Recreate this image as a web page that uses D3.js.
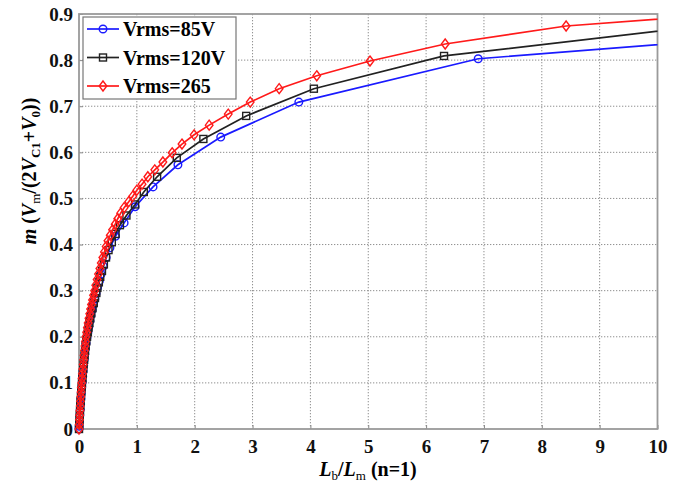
<!DOCTYPE html>
<html><head><meta charset="utf-8">
<script src="https://cdn.jsdelivr.net/npm/d3@7"></script>
<style>
body{margin:0;background:#fff;}
</style></head>
<body>
<svg id="chart" width="690" height="485" font-family="Liberation Serif" font-weight="bold"></svg>
<script>
// ---- data ----
const seriesNames = ["Vrms=85V", "Vrms=120V", "Vrms=265"];
const seriesColors = ["#1a1aff", "#222222", "#ff1a1a"];
const seriesMarkers = ["circle", "square", "diamond"];

const blueX = [0,0.003,0.009,0.015,0.021,0.028,0.034,0.040,0.048,0.056,0.064,0.072,0.081,0.090,0.100,0.110,0.122,0.137,0.154,0.170,0.189,0.206,0.228,0.250,0.274,0.295,0.321,0.353,0.383,0.420,0.470,0.535,0.630,0.78,0.97,1.28,1.71,2.45,3.8,6.9,13.0];
const blueM = [0,0.006,0.018,0.03,0.042,0.054,0.066,0.078,0.09,0.102,0.114,0.126,0.138,0.15,0.162,0.174,0.186,0.198,0.21,0.222,0.234,0.246,0.258,0.27,0.282,0.294,0.307,0.321,0.336,0.353,0.372,0.393,0.418,0.447,0.482,0.525,0.573,0.633,0.709,0.803,0.863];

const blackX = [0,0.004,0.009,0.013,0.018,0.022,0.028,0.034,0.039,0.046,0.052,0.059,0.066,0.073,0.080,0.089,0.097,0.105,0.114,0.126,0.139,0.153,0.166,0.180,0.195,0.213,0.233,0.255,0.276,0.300,0.318,0.343,0.367,0.397,0.430,0.467,0.51,0.567,0.632,0.707,0.82,0.97,1.12,1.35,1.69,2.15,2.89,4.06,6.31,10.3];
const blackM = [0,0.01,0.02,0.03,0.04,0.05,0.06,0.07,0.08,0.09,0.10,0.11,0.12,0.13,0.14,0.15,0.16,0.17,0.18,0.19,0.20,0.21,0.22,0.23,0.24,0.251,0.262,0.273,0.284,0.295,0.306,0.318,0.33,0.343,0.357,0.372,0.388,0.405,0.423,0.442,0.463,0.487,0.514,0.547,0.588,0.629,0.679,0.738,0.809,0.867];

const redX = [0,0.004,0.008,0.012,0.016,0.021,0.026,0.031,0.036,0.041,0.047,0.053,0.060,0.066,0.073,0.080,0.087,0.095,0.103,0.111,0.120,0.132,0.145,0.158,0.172,0.186,0.200,0.216,0.233,0.251,0.270,0.290,0.313,0.337,0.361,0.385,0.412,0.440,0.470,0.500,0.540,0.580,0.625,0.670,0.720,0.780,0.860,0.930,1.00,1.09,1.19,1.31,1.45,1.61,1.78,1.99,2.25,2.58,2.96,3.46,4.11,5.03,6.33,8.42,11.5];
const redM = [0,0.01,0.02,0.03,0.04,0.05,0.06,0.07,0.08,0.09,0.10,0.11,0.12,0.13,0.14,0.15,0.16,0.17,0.18,0.19,0.20,0.21,0.22,0.23,0.24,0.25,0.26,0.27,0.28,0.29,0.30,0.312,0.324,0.336,0.348,0.36,0.372,0.384,0.396,0.408,0.42,0.432,0.444,0.456,0.468,0.48,0.493,0.505,0.518,0.531,0.547,0.562,0.579,0.599,0.618,0.638,0.659,0.683,0.709,0.738,0.766,0.798,0.835,0.874,0.903];

const xTicks = [0,1,2,3,4,5,6,7,8,9,10];
const yTicks = [0,0.1,0.2,0.3,0.4,0.5,0.6,0.7,0.8,0.9];

const seriesX = [blueX, blackX, redX];
const seriesM = [blueM, blackM, redM];

const FONT = "Liberation Serif";

// ---- layout ----
const svg = d3.select("#chart");
const L = 79, R = 657.5, T = 14, B = 429;
const x = d3.scaleLinear().domain([0,10]).range([L,R]);
const y = d3.scaleLinear().domain([0,0.9]).range([B,T]);

svg.append("defs").append("clipPath").attr("id","clip")
  .append("rect").attr("x",L-10).attr("y",T-10).attr("width",R-(L-10)).attr("height",B-T+20);

// grid
const grid = svg.append("g");
grid.selectAll("line.v").data(xTicks.slice(1,-1)).join("line")
  .attr("x1",d=>x(d)).attr("x2",d=>x(d)).attr("y1",T).attr("y2",B)
  .attr("stroke","#8f8f8f").attr("stroke-width",1).attr("stroke-dasharray","1.3,1.7");
grid.selectAll("line.h").data(yTicks.slice(1,-1)).join("line")
  .attr("y1",d=>y(d)).attr("y2",d=>y(d)).attr("x1",L).attr("x2",R)
  .attr("stroke","#8f8f8f").attr("stroke-width",1).attr("stroke-dasharray","1.3,1.7");

// axes with d3 axis generators
const xAxis = svg.append("g").attr("transform",`translate(0,${B})`)
  .call(d3.axisBottom(x).tickValues(xTicks).tickFormat(d3.format("d")).tickSizeInner(-4).tickSizeOuter(0).tickPadding(10));
const yAxis = svg.append("g").attr("transform",`translate(${L},0)`)
  .call(d3.axisLeft(y).tickValues(yTicks).tickFormat(d=>d===0?"0":d3.format(".1f")(d)).tickSizeInner(-4).tickSizeOuter(0).tickPadding(6));
[xAxis,yAxis].forEach(g=>{
  g.attr("font-family",FONT).attr("font-size",19);
  g.select(".domain").remove();
  g.selectAll(".tick line").attr("stroke","#888");
  g.selectAll(".tick text").attr("font-family",FONT).attr("font-size",19).attr("font-weight","bold").attr("fill","#111");
});
xAxis.selectAll(".tick text").attr("dy","0.75em");

// frame
svg.append("rect").attr("x",L).attr("y",T).attr("width",R-L).attr("height",B-T)
  .attr("fill","none").attr("stroke","#9a9a9a").attr("stroke-width",1.8);

// marker drawing
function marker(sel, type, color){
  if(type==="circle"){
    sel.append("circle").attr("r",3.8).attr("fill","none").attr("stroke",color).attr("stroke-width",1.4);
  } else if(type==="square"){
    sel.append("rect").attr("x",-3.5).attr("y",-3.5).attr("width",7).attr("height",7)
      .attr("fill","none").attr("stroke",color).attr("stroke-width",1.4);
  } else {
    sel.append("path").attr("d","M0,-5L3.8,0L0,5L-3.8,0Z")
      .attr("fill","none").attr("stroke",color).attr("stroke-width",1.4);
  }
}

const plot = svg.append("g").attr("clip-path","url(#clip)");
const line = d3.line().x(d=>x(d[0])).y(d=>y(d[1]));
seriesNames.forEach((name,i)=>{
  const pts = seriesX[i].map((v,j)=>[v, seriesM[i][j]]);
  const g = plot.append("g");
  g.append("path").datum(pts).attr("d",line).attr("fill","none")
    .attr("stroke",seriesColors[i]).attr("stroke-width",1.7);
  pts.filter(p=>p[0]<=10).forEach(p=>{
    const m = g.append("g").attr("transform",`translate(${x(p[0])},${y(p[1])})`);
    marker(m, seriesMarkers[i], seriesColors[i]);
  });
});

// legend
const lg = svg.append("g").attr("transform","translate(83,17)");
lg.append("rect").attr("width",153).attr("height",82).attr("fill","#fff").attr("stroke","#777").attr("stroke-width",1.2);
seriesNames.forEach((name,i)=>{
  const ry = 12 + i*28.5;
  lg.append("line").attr("x1",4).attr("x2",36).attr("y1",ry).attr("y2",ry)
    .attr("stroke",seriesColors[i]).attr("stroke-width",1.7);
  const m = lg.append("g").attr("transform",`translate(20,${ry})`);
  marker(m, seriesMarkers[i], seriesColors[i]);
  lg.append("text").attr("x",40).attr("y",ry).attr("dy","0.35em")
    .attr("font-family",FONT).attr("font-weight","bold").attr("font-size",20).text(name);
});

// y label
const yl = svg.append("text").attr("transform","translate(36,171) rotate(-90)")
  .attr("text-anchor","middle").attr("font-family",FONT).attr("font-weight","bold").attr("font-size",20);
yl.append("tspan").attr("font-style","italic").text("m");
yl.append("tspan").text(" (");
yl.append("tspan").attr("font-style","italic").text("V");
yl.append("tspan").attr("font-size",13).attr("font-weight","normal").attr("dy",4).text("m");
yl.append("tspan").attr("dy",-4).text("/(2");
yl.append("tspan").attr("font-style","italic").text("V");
yl.append("tspan").attr("font-size",13).attr("dy",4).text("C1");
yl.append("tspan").attr("dy",-4).text("+");
yl.append("tspan").attr("font-style","italic").text("V");
yl.append("tspan").attr("font-size",13).attr("dy",4).text("0");
yl.append("tspan").attr("dy",-4).text("))");

// x label
const xl = svg.append("text").attr("x",368).attr("y",476).attr("text-anchor","middle")
  .attr("font-family",FONT).attr("font-weight","bold").attr("font-size",20);
xl.append("tspan").attr("font-style","italic").text("L");
xl.append("tspan").attr("font-size",13).attr("font-weight","normal").attr("dy",4).text("b");
xl.append("tspan").attr("dy",-4).text("/");
xl.append("tspan").attr("font-style","italic").text("L");
xl.append("tspan").attr("font-size",13).attr("font-weight","normal").attr("dy",4).text("m");
xl.append("tspan").attr("dy",-4).text(" (n=1)");
</script>
</body></html>
